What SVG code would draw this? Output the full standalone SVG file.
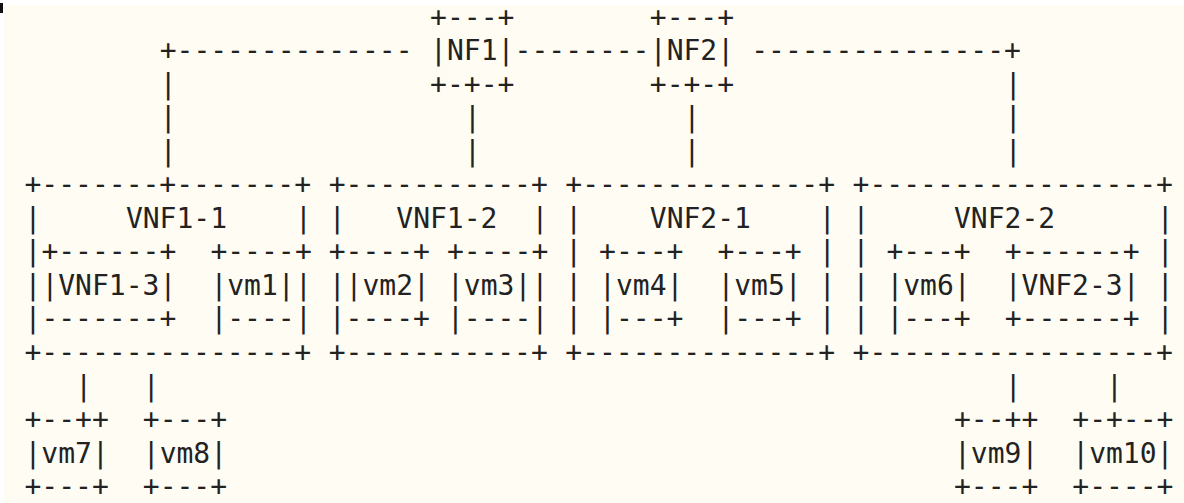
<svg xmlns="http://www.w3.org/2000/svg" width="1184" height="503" viewBox="0 0 1184 503">
<style>
.t{font-family:"DejaVu Sans Mono","Liberation Mono",monospace;font-size:28px;fill:#222;white-space:pre}
</style>
<rect x="0" y="0" width="1184" height="503" fill="#ffffff"/>
<rect x="4" y="5" width="1180" height="498" fill="#fffcf4"/>
<rect x="0" y="3" width="3" height="10" fill="#111"/>
<g id="connectors">
<text class="t" x="159.7" y="60.05">+--------------</text>
<text class="t" x="514.6" y="60.05">--------</text>
<text class="t" x="751.2" y="60.05">---------------+</text>
<text class="t" x="159.7" y="93.6">|</text>
<text class="t" x="159.7" y="127.15">|</text>
<text class="t" x="159.7" y="160.7">|</text>
<text class="t" x="463.9" y="127.15">|</text>
<text class="t" x="463.9" y="160.7">|</text>
<text class="t" x="683.6" y="127.15">|</text>
<text class="t" x="683.6" y="160.7">|</text>
<text class="t" x="1004.7" y="93.6">|</text>
<text class="t" x="1004.7" y="127.15">|</text>
<text class="t" x="1004.7" y="160.7">|</text>
<text class="t" x="75.2" y="395.55">|</text>
<text class="t" x="142.8" y="395.55">|</text>
<text class="t" x="1004.7" y="395.55">|</text>
<text class="t" x="1106.1" y="395.55">|</text>
</g>
<g id="NF1">
<text class="t" x="430.1" y="26.5">+---+</text>
<text class="t" x="430.1" y="60.05">|NF1|</text>
<text class="t" x="430.1" y="93.6">+-+-+</text>
</g>
<g id="NF2">
<text class="t" x="649.8" y="26.5">+---+</text>
<text class="t" x="649.8" y="60.05">|NF2|</text>
<text class="t" x="649.8" y="93.6">+-+-+</text>
</g>
<g id="VNF1-1">
<text class="t" x="24.5" y="194.25">+-------+-------+</text>
<text class="t" x="24.5" y="227.8">|</text>
<text class="t" x="125.9" y="227.8">VNF1-1</text>
<text class="t" x="294.9" y="227.8">|</text>
<text class="t" x="24.5" y="261.35">|</text>
<text class="t" x="294.9" y="261.35">+</text>
<text class="t" x="24.5" y="294.9">|</text>
<text class="t" x="294.9" y="294.9">|</text>
<text class="t" x="24.5" y="328.45">|</text>
<text class="t" x="294.9" y="328.45">|</text>
<text class="t" x="24.5" y="362">+---------------+</text>
</g>
<g id="VNF1-3">
<text class="t" x="41.4" y="261.35">+------+</text>
<text class="t" x="41.4" y="294.9">|VNF1-3|</text>
<text class="t" x="41.4" y="328.45">-------+</text>
</g>
<g id="vm1">
<text class="t" x="210.4" y="261.35">+----</text>
<text class="t" x="210.4" y="294.9">|vm1|</text>
<text class="t" x="210.4" y="328.45">|----</text>
</g>
<g id="VNF1-2">
<text class="t" x="328.7" y="194.25">+-----------+</text>
<text class="t" x="328.7" y="227.8">|</text>
<text class="t" x="396.3" y="227.8">VNF1-2</text>
<text class="t" x="531.5" y="227.8">|</text>
<text class="t" x="328.7" y="261.35">+</text>
<text class="t" x="531.5" y="261.35">+</text>
<text class="t" x="328.7" y="294.9">|</text>
<text class="t" x="531.5" y="294.9">|</text>
<text class="t" x="328.7" y="328.45">|</text>
<text class="t" x="531.5" y="328.45">|</text>
<text class="t" x="328.7" y="362">+-----------+</text>
</g>
<g id="vm2">
<text class="t" x="345.6" y="261.35">----+</text>
<text class="t" x="345.6" y="294.9">|vm2|</text>
<text class="t" x="345.6" y="328.45">----+</text>
</g>
<g id="vm3">
<text class="t" x="447.0" y="261.35">+----</text>
<text class="t" x="447.0" y="294.9">|vm3|</text>
<text class="t" x="447.0" y="328.45">|----</text>
</g>
<g id="VNF2-1">
<text class="t" x="565.3" y="194.25">+--------------+</text>
<text class="t" x="565.3" y="227.8">|</text>
<text class="t" x="649.8" y="227.8">VNF2-1</text>
<text class="t" x="818.8" y="227.8">|</text>
<text class="t" x="565.3" y="261.35">|</text>
<text class="t" x="818.8" y="261.35">|</text>
<text class="t" x="565.3" y="294.9">|</text>
<text class="t" x="818.8" y="294.9">|</text>
<text class="t" x="565.3" y="328.45">|</text>
<text class="t" x="818.8" y="328.45">|</text>
<text class="t" x="565.3" y="362">+--------------+</text>
</g>
<g id="vm4">
<text class="t" x="599.1" y="261.35">+---+</text>
<text class="t" x="599.1" y="294.9">|vm4|</text>
<text class="t" x="599.1" y="328.45">|---+</text>
</g>
<g id="vm5">
<text class="t" x="717.4" y="261.35">+---+</text>
<text class="t" x="717.4" y="294.9">|vm5|</text>
<text class="t" x="717.4" y="328.45">|---+</text>
</g>
<g id="VNF2-2">
<text class="t" x="852.6" y="194.25">+-----------------+</text>
<text class="t" x="852.6" y="227.8">|</text>
<text class="t" x="954.0" y="227.8">VNF2-2</text>
<text class="t" x="1156.8" y="227.8">|</text>
<text class="t" x="852.6" y="261.35">|</text>
<text class="t" x="1156.8" y="261.35">|</text>
<text class="t" x="852.6" y="294.9">|</text>
<text class="t" x="1156.8" y="294.9">|</text>
<text class="t" x="852.6" y="328.45">|</text>
<text class="t" x="1156.8" y="328.45">|</text>
<text class="t" x="852.6" y="362">+-----------------+</text>
</g>
<g id="vm6">
<text class="t" x="886.4" y="261.35">+---+</text>
<text class="t" x="886.4" y="294.9">|vm6|</text>
<text class="t" x="886.4" y="328.45">|---+</text>
</g>
<g id="VNF2-3">
<text class="t" x="1004.7" y="261.35">+------+</text>
<text class="t" x="1004.7" y="294.9">|VNF2-3|</text>
<text class="t" x="1004.7" y="328.45">+------+</text>
</g>
<g id="vm7">
<text class="t" x="24.5" y="429.1">+--++</text>
<text class="t" x="24.5" y="462.65">|vm7|</text>
<text class="t" x="24.5" y="496.2">+---+</text>
</g>
<g id="vm8">
<text class="t" x="142.8" y="429.1">+---+</text>
<text class="t" x="142.8" y="462.65">|vm8|</text>
<text class="t" x="142.8" y="496.2">+---+</text>
</g>
<g id="vm9">
<text class="t" x="954.0" y="429.1">+--++</text>
<text class="t" x="954.0" y="462.65">|vm9|</text>
<text class="t" x="954.0" y="496.2">+---+</text>
</g>
<g id="vm10">
<text class="t" x="1072.3" y="429.1">+-+--+</text>
<text class="t" x="1072.3" y="462.65">|vm10|</text>
<text class="t" x="1072.3" y="496.2">+----+</text>
</g>
</svg>
